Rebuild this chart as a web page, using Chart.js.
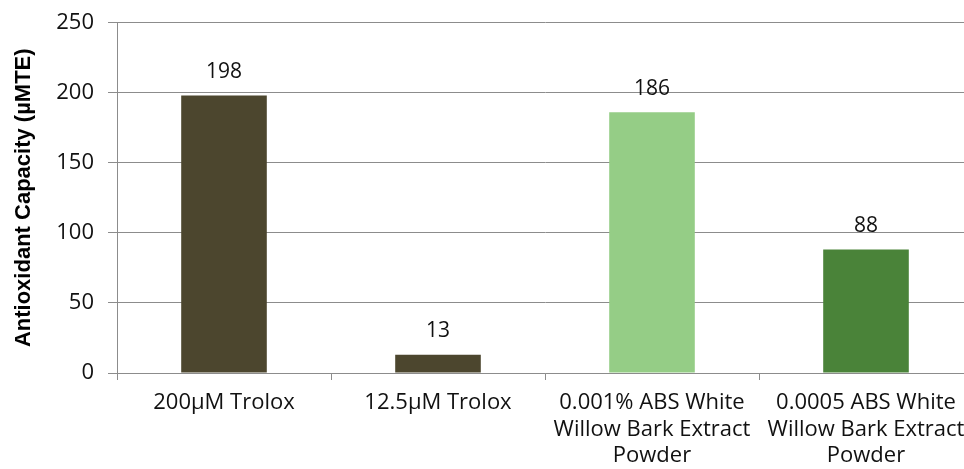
<!DOCTYPE html>
<html>
<head>
<meta charset="utf-8">
<script src="https://cdn.jsdelivr.net/npm/chart.js@4/dist/chart.umd.min.js"></script>
<style>
  html, body { margin: 0; padding: 0; background: #fff; overflow: hidden; width: 964px; height: 469px; }
  #wrap { width: 976px; height: 469px; }
</style>
</head>
<body>
<div id="wrap"><canvas id="c" width="976" height="469"></canvas></div>
<script>
const categories = [
  ["200µM Trolox"],
  ["12.5µM Trolox"],
  ["0.001% ABS White", "Willow Bark Extract", "Powder"],
  ["0.0005 ABS White", "Willow Bark Extract", "Powder"]
];
const values = [198, 13, 186, 88];
const barColors = ["#4c462e", "#4c462e", "#95cd86", "#4a8339"];
const yTitle = "Antioxidant Capacity (µMTE)";
const yMin = 0, yMax = 250, yStep = 50;

const labelPlugin = {
  id: 'valueLabels',
  afterDatasetsDraw(chart) {
    const ctx = chart.ctx;
    const meta = chart.getDatasetMeta(0);
    ctx.save();
    ctx.font = '21px "Open Sans"';
    ctx.fillStyle = '#111';
    ctx.textAlign = 'center';
    ctx.textBaseline = 'middle';
    meta.data.forEach((bar, i) => {
      ctx.fillText(String(values[i]), bar.x, bar.y - 23.5);
    });
    ctx.restore();
  }
};

new Chart(document.getElementById('c'), {
  type: 'bar',
  data: {
    labels: categories,
    datasets: [{
      data: values,
      backgroundColor: barColors,
      borderWidth: 0,
      barPercentage: 0.40,
      categoryPercentage: 1.0
    }]
  },
  options: {
    responsive: false,
    animation: false,
    devicePixelRatio: 1,
    layout: { padding: { top: 0, right: 3, left: 0, bottom: 0 } },
    plugins: { legend: { display: false }, tooltip: { enabled: false } },
    scales: {
      x: {
        grid: { display: true, drawOnChartArea: false, drawTicks: true, tickLength: 7, color: '#8c8c8c', offset: true },
        border: { display: true, color: '#8c8c8c', width: 1 },
        ticks: {
          color: '#111', font: { family: '"Open Sans"', size: 22, lineHeight: 1.2 },
          maxRotation: 0, minRotation: 0, autoSkip: false, padding: 10
        },
        afterFit(scale) { scale.height = 96; }
      },
      y: {
        min: yMin, max: yMax,
        grid: { color: '#8c8c8c', lineWidth: 1, drawTicks: true, tickLength: 9 },
        border: { display: true, color: '#8c8c8c', width: 1 },
        ticks: { stepSize: yStep, color: '#111', font: { family: '"Open Sans"', size: 22, lineHeight: 0.77 }, padding: 14 },
        title: {
          display: true, text: yTitle, color: '#000',
          font: { family: '"Liberation Sans", Arial', size: 22, weight: 'bold' },
          padding: { top: 11, bottom: 0 }
        },
        afterFit(scale) { scale.width = 117; }
      }
    }
  },
  plugins: [labelPlugin]
});
</script>
</body>
</html>
